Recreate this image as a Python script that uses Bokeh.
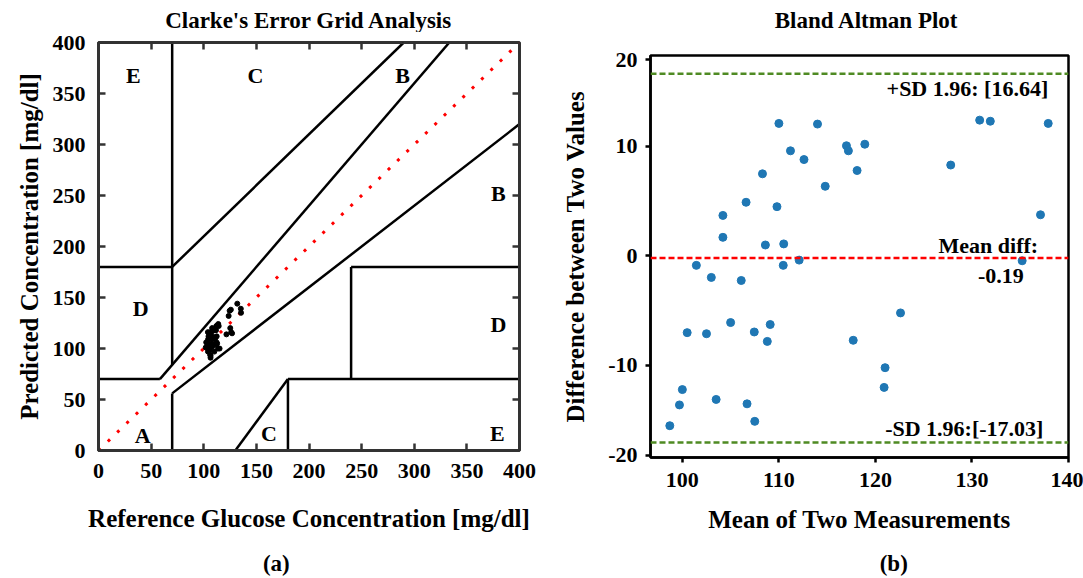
from bokeh.plotting import figure
from bokeh.layouts import row, column
from bokeh.models import LinearAxis, FixedTicker, Span, Label
from bokeh.embed import file_html
from bokeh.resources import INLINE
from bokeh.core.properties import value

# ---------------- data ----------------
reference = [102.35, 103.35, 104.15, 104.55, 103.95, 107.55, 108.10, 109.95, 106.40, 108.20,
             107.98, 111.62, 111.97, 112.40, 114.20, 113.80, 123.65, 124.60, 125.75, 131.85,
             135.22, 101.88, 103.98, 107.22, 110.88, 112.29, 135.42, 125.20, 108.04, 104.00,
             106.05, 110.92, 112.23, 112.70, 121.55, 126.10, 126.90, 106.10, 106.50, 110.05,
             113.45, 115.05, 106.45]
predicted = [106.05, 105.05, 109.05, 112.05, 116.05, 112.05, 109.10, 111.05, 116.00, 117.00,
             120.02, 117.98, 122.03, 122.00, 122.00, 124.00, 131.95, 137.00, 138.05, 143.95,
             138.98, 101.02, 102.02, 104.98, 110.02, 111.91, 134.98, 120.00, 101.96, 97.00,
             98.95, 103.98, 105.97, 104.90, 113.85, 115.90, 114.90, 93.90, 92.90, 96.95,
             99.95, 99.95, 90.95]

mean_vals = [(r + p) / 2 for r, p in zip(reference, predicted)]
diff_vals = [p - r for r, p in zip(reference, predicted)]

# Clarke zone boundary segments
zone_x0 = [0, 175 / 3, 70, 0, 70, 70, 70, 180, 180, 240, 240, 130]
zone_y0 = [70, 70, 84, 180, 180, 0, 56, 0, 70, 70, 180, 0]
zone_x1 = [175 / 3, 400 / 1.2, 70, 70, 290, 70, 400, 180, 400, 240, 400, 180]
zone_y1 = [70, 400, 400, 180, 400, 56, 320, 70, 70, 180, 180, 70]

zone_names = ["E", "C", "B", "B", "D", "E", "C", "A", "D"]
zone_label_x = [33, 149, 289, 380, 380, 379, 162, 42, 40]
zone_label_y = [368, 368, 368, 252, 124, 17, 17, 15, 139]

clarke_ticks = [0, 50, 100, 150, 200, 250, 300, 350, 400]

upper_loa = 16.64
mean_diff = -0.19
lower_loa = -17.03

ba_x_ticks = [100, 110, 120, 130, 140]
ba_y_ticks = [-18.2, -10, 0, 10, 17.9]
ba_y_labels = ["-20", "-10", "0", "10", "20"]

titles = ["Clarke's Error Grid Analysis", "Bland Altman Plot"]
captions = ["(a)", "(b)"]

FONT = "Liberation Serif"
TICK_SIZE = "22px"
LABEL_SIZE = "25px"
TITLE_SIZE = "23px"

HEAD_A = 32
HEAD_B = 38
CAP_H = 26
MAIN_A = 578 - HEAD_A - CAP_H
MAIN_B = 578 - HEAD_B - CAP_H


def style_axis(ax):
    ax.major_label_text_font = FONT
    ax.major_label_text_font_style = "bold"
    ax.major_label_text_font_size = TICK_SIZE
    ax.major_label_text_color = "black"
    ax.axis_label_text_font = FONT
    ax.axis_label_text_font_style = "bold"
    ax.axis_label_text_font_size = LABEL_SIZE
    ax.axis_label_text_color = "black"
    ax.minor_tick_line_color = None
    ax.minor_tick_out = 0
    ax.minor_tick_in = 0


def text_strip(x_range, width, height, left, right, x, y, txt):
    f = figure(width=width, height=height, x_range=x_range, y_range=(0, 1),
               x_axis_type=None, y_axis_type=None, output_backend="svg",
               toolbar_location=None, min_border_left=left, min_border_right=right,
               min_border_top=0, min_border_bottom=0)
    f.title = None
    f.outline_line_color = None
    f.grid.visible = False
    f.text(x=[x], y=[y], text=[txt], text_align="center", text_baseline="middle",
           text_font=value(FONT), text_font_style="bold", text_font_size=TITLE_SIZE,
           text_color="black")
    return f


# ---------------- (a) Clarke error grid ----------------
p1 = figure(width=540, height=MAIN_A, x_range=(0, 400), y_range=(0, 400),
            output_backend="svg", toolbar_location=None,
            min_border_left=98, min_border_right=21, min_border_top=42 - HEAD_A,
            min_border_bottom=MAIN_A - (42 - HEAD_A) - 408)
p1.title = None
p1.grid.visible = False
p1.outline_line_color = "#333333"
p1.outline_line_width = 3

for ax in p1.xaxis + p1.yaxis:
    style_axis(ax)
    ax.ticker = FixedTicker(ticks=clarke_ticks)
    ax.major_tick_in = 7
    ax.major_tick_out = 0
    ax.major_tick_line_width = 2.5
    ax.major_tick_line_color = "#333333"
    ax.axis_line_color = "#333333"
    ax.axis_line_width = 3
p1.xaxis.axis_label = "Reference Glucose Concentration [mg/dl]"
p1.yaxis.axis_label = "Predicted Concentration [mg/dl]"
p1.xaxis.major_label_standoff = 13
p1.xaxis.axis_label_standoff = 24
p1.yaxis.major_label_standoff = 13
p1.yaxis.axis_label_standoff = 7

for side in ("right", "above"):
    ax = LinearAxis(ticker=FixedTicker(ticks=clarke_ticks), fixed_location=400)
    ax.major_label_text_font_size = "1px"
    ax.major_label_overrides = {t: "" for t in clarke_ticks}
    ax.major_label_standoff = 0
    ax.major_tick_in = 7
    ax.major_tick_out = 0
    ax.minor_tick_in = 0
    ax.minor_tick_out = 0
    ax.major_tick_line_width = 2.5
    ax.major_tick_line_color = "#333333"
    ax.minor_tick_line_color = None
    ax.axis_line_color = "#333333"
    ax.axis_line_width = 3
    p1.add_layout(ax, side)

p1.segment(x0=zone_x0, y0=zone_y0, x1=zone_x1, y1=zone_y1, line_color="black", line_width=2.5)
p1.line([0, 400], [0, 400], line_color="red", line_width=3, line_dash="3 10")
p1.scatter(reference, predicted, size=5, color="black")
p1.text(x=zone_label_x, y=zone_label_y, text=zone_names, text_align="center",
        text_baseline="middle", text_font=value(FONT), text_font_style="bold",
        text_font_size="22px", text_color="black")

# ---------------- (b) Bland-Altman ----------------
p2 = figure(width=543, height=MAIN_B, x_range=(96.7, 140), y_range=(-18.4, 18.3),
            output_backend="svg", toolbar_location=None,
            min_border_left=110, min_border_right=15, min_border_top=55 - HEAD_B,
            min_border_bottom=MAIN_B - (55 - HEAD_B) - 402)
p2.title = None
p2.grid.visible = False
p2.outline_line_color = "black"
p2.outline_line_width = 2.5

for ax in p2.xaxis + p2.yaxis:
    style_axis(ax)
    ax.major_tick_in = 0
    ax.major_tick_out = 5
    ax.major_tick_line_width = 2.5
    ax.major_tick_line_color = "black"
    ax.axis_line_color = "black"
    ax.axis_line_width = 2.5
p2.xaxis.ticker = FixedTicker(ticks=ba_x_ticks)
p2.yaxis.ticker = FixedTicker(ticks=ba_y_ticks)
p2.yaxis.major_label_overrides = {t: l for t, l in zip(ba_y_ticks, ba_y_labels)}
p2.xaxis.axis_label = "Mean of Two Measurements"
p2.yaxis.axis_label = "Difference between Two Values"
p2.xaxis.major_label_standoff = 10
p2.xaxis.axis_label_standoff = 16
p2.yaxis.major_label_standoff = 8
p2.yaxis.axis_label_standoff = 16

green = "#4f8a23"
p2.add_layout(Span(location=upper_loa, dimension="width", line_color=green, line_width=2.5, line_dash="6 3"))
p2.add_layout(Span(location=lower_loa, dimension="width", line_color=green, line_width=2.5, line_dash="6 3"))
p2.add_layout(Span(location=mean_diff, dimension="width", line_color="red", line_width=2.5, line_dash="6 3"))

p2.scatter(mean_vals, diff_vals, size=8, color="#1f77b4")

lab_kw = dict(text_font=FONT, text_font_style="bold", text_font_size="22px",
              text_color="black", text_baseline="middle")
p2.add_layout(Label(x=137.9, y=15.3, text=f"+SD 1.96: [{upper_loa:.2f}]", text_align="right", **lab_kw))
p2.add_layout(Label(x=131.7, y=0.96, text="Mean diff:", text_align="center", **lab_kw))
p2.add_layout(Label(x=133.0, y=-1.87, text=f"{mean_diff:.2f}", text_align="center", **lab_kw))
p2.add_layout(Label(x=137.4, y=-15.75, text=f"-SD 1.96:[{lower_loa:.2f}]", text_align="right", **lab_kw))

# ---------------- titles and captions ----------------
h1 = text_strip(p1.x_range, 540, HEAD_A, 98, 21, 200, 1 - 20 / HEAD_A, titles[0])
h2 = text_strip(p2.x_range, 543, HEAD_B, 110, 15, 119.1, 1 - 20 / HEAD_B, titles[1])
c1 = text_strip(p1.x_range, 540, CAP_H, 98, 21, 169, 1 - 11 / CAP_H, captions[0])
c2 = text_strip(p2.x_range, 543, CAP_H, 110, 15, 121.9, 1 - 11 / CAP_H, captions[1])

layout = row(column(h1, p1, c1), column(h2, p2, c2))
open("out.html", "w").write(file_html(layout, INLINE))
